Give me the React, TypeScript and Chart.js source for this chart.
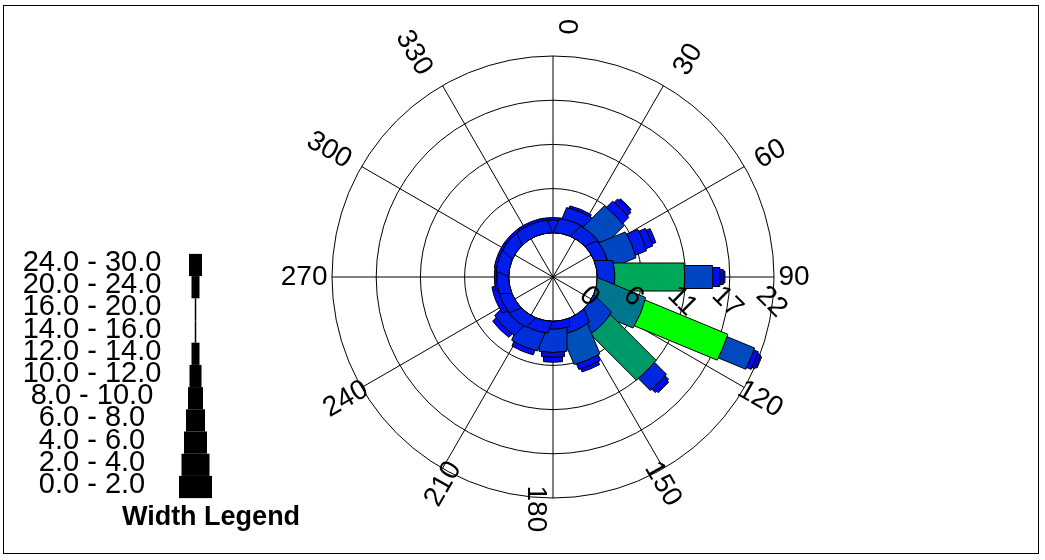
import React, { useEffect, useRef } from 'react';
import { Chart, registerables } from 'chart.js';

Chart.register(...registerables);

// ---- data ----
const directions = [0, 22.5, 45, 67.5, 90, 112.5, 135, 157.5, 180, 202.5, 225, 247.5, 270, 292.5, 315, 337.5];
const angleLabels = ['0', '30', '60', '90', '120', '150', '180', '210', '240', '270', '300', '330'];
const radialTicks = [0, 5.5, 11, 16.5, 22];
const speedClasses = ['0.0 - 2.0', '2.0 - 4.0', '4.0 - 6.0', '6.0 - 8.0', '8.0 - 10.0', '10.0 - 12.0', '12.0 - 14.0', '14.0 - 16.0', '16.0 - 20.0', '20.0 - 24.0', '24.0 - 30.0'];

// frequency (%) per direction, one array per speed class
const speed0to2 = [1.6, 1.8, 1.7, 1.6, 2.2, 6.3, 3.0, 1.7, 1.0, 1.5, 1.6, 1.5, 1.5, 1.6, 1.6, 1.6];
const speed2to4 = [0.3, 1.5, 3.7, 3.5, 8.7, 11.1, 8.0, 4.0, 2.9, 2.4, 1.6, 0.7, 0.3, 0.3, 0.3, 0.3];
const speed4to6 = [0, 0.3, 1.1, 1.5, 3.5, 3.7, 2.1, 0.75, 0.6, 0.6, 0.6, 0, 0, 0, 0, 0];
const speed6to8 = [0, 0, 0.6, 0.9, 0.9, 0.6, 0.6, 0.4, 0.6, 0, 0, 0, 0, 0, 0, 0];
const speed8to10 = [0, 0, 0.25, 0.5, 0.4, 0.4, 0.25, 0, 0, 0, 0, 0, 0, 0, 0, 0];
const speed10to12 = [0, 0, 0, 0, 0.2, 0.2, 0, 0, 0, 0, 0, 0, 0, 0, 0, 0];
const speed12to14 = [0, 0, 0, 0, 0, 0, 0, 0, 0, 0, 0, 0, 0, 0, 0, 0];
const speed14to16 = [0, 0, 0, 0, 0, 0, 0, 0, 0, 0, 0, 0, 0, 0, 0, 0];
const speed16to20 = [0, 0, 0, 0, 0, 0, 0, 0, 0, 0, 0, 0, 0, 0, 0, 0];
const speed20to24 = [0, 0, 0, 0, 0, 0, 0, 0, 0, 0, 0, 0, 0, 0, 0, 0];
const speed24to30 = [0, 0, 0, 0, 0, 0, 0, 0, 0, 0, 0, 0, 0, 0, 0, 0];

const speedSeries = [speed0to2, speed2to4, speed4to6, speed6to8, speed8to10, speed10to12, speed12to14, speed14to16, speed16to20, speed20to24, speed24to30];

// ---- styles ----
const CLASS_WIDTH_PX = [33, 28, 23, 19, 15, 12, 8, 1.5, 1.5, 8, 13];
const FONT = 'Arial, "Liberation Sans", Helvetica, sans-serif';
const COLOR_STOPS: [number, number, number, number][] = [
  [0, 0, 0, 255],
  [2, 0, 36, 228],
  [4, 0, 80, 185],
  [6.3, 0, 118, 140],
  [8.7, 0, 168, 90],
  [11.1, 0, 255, 0],
];

function valueColor(v: number): string {
  if (v <= COLOR_STOPS[0][0]) return `rgb(${COLOR_STOPS[0].slice(1).join(',')})`;
  for (let i = 1; i < COLOR_STOPS.length; i++) {
    const a = COLOR_STOPS[i - 1];
    const b = COLOR_STOPS[i];
    if (v <= b[0]) {
      const t = (v - a[0]) / (b[0] - a[0]);
      const c = [1, 2, 3].map((k) => Math.round(a[k] + (b[k] - a[k]) * t));
      return `rgb(${c.join(',')})`;
    }
  }
  const l = COLOR_STOPS[COLOR_STOPS.length - 1];
  return `rgb(${l.slice(1).join(',')})`;
}

function drawSegment(ctx: CanvasRenderingContext2D, cx: number, cy: number, phi: number, r1: number, r2: number, w: number, color: string) {
  const h = w / 2;
  const a1 = Math.asin(Math.min(1, h / r1));
  const a2 = Math.asin(Math.min(1, h / r2));
  ctx.beginPath();
  ctx.arc(cx, cy, r1, phi - a1, phi + a1, false);
  ctx.arc(cx, cy, r2, phi + a2, phi - a2, true);
  ctx.closePath();
  ctx.fillStyle = color;
  ctx.fill();
  ctx.lineWidth = 1;
  ctx.strokeStyle = '#000';
  ctx.stroke();
}

const rosePlugin = {
  id: 'windRose',
  beforeDraw(chart: any) {
    const ctx: CanvasRenderingContext2D = chart.ctx;
    ctx.save();
    ctx.fillStyle = '#fff';
    ctx.fillRect(0, 0, chart.width, chart.height);
    ctx.strokeStyle = '#000';
    ctx.lineWidth = 1;
    ctx.strokeRect(3.5, 5.5, 1035, 548);
    ctx.restore();
  },
  afterDatasetsDraw(chart: any) {
    const ctx: CanvasRenderingContext2D = chart.ctx;
    const s = chart.scales.r;
    const cx = s.xCenter;
    const cy = s.yCenter;
    ctx.save();
    // wind rose segments
    directions.forEach((deg, i) => {
      const phi = ((deg - 90) * Math.PI) / 180;
      let cum = 0;
      speedSeries.forEach((series, k) => {
        const v = series[i];
        if (!v) return;
        const r1 = s.getDistanceFromCenterForValue(cum);
        const r2 = s.getDistanceFromCenterForValue(cum + v);
        cum += v;
        drawSegment(ctx, cx, cy, phi, r1, r2, CLASS_WIDTH_PX[k], valueColor(v));
      });
    });

    // angle labels
    ctx.fillStyle = '#000';
    ctx.font = `28px ${FONT}`;
    ctx.textAlign = 'center';
    ctx.textBaseline = 'middle';
    angleLabels.forEach((lab, i) => {
      const deg = i * 30;
      let rot = deg - 90;
      if (rot > 90) rot -= 180;
      const rr = (rot * Math.PI) / 180;
      const L = ctx.measureText(lab).width;
      const p = s.getPointPosition(i, s.drawingArea + 4.5 + L / 2);
      const x = p.x - 17 * Math.sin(rr);
      const y = p.y + 17 * Math.cos(rr) - 17;
      ctx.save();
      ctx.translate(x, y);
      ctx.rotate(rr);
      ctx.fillText(lab, 0, 0);
      ctx.restore();
    });

    // radial tick labels
    ctx.textAlign = 'left';
    radialTicks.forEach((v) => {
      const r = s.getDistanceFromCenterForValue(v);
      ctx.save();
      ctx.translate(cx + r - 13.6, cy + 14);
      ctx.rotate(Math.PI / 4);
      ctx.fillText(String(Math.round(v)), 0, 0);
      ctx.restore();
    });

    // width legend
    const rowH = 22.2;
    const baseY = 487;
    ctx.font = `29px ${FONT}`;
    ctx.textAlign = 'center';
    speedClasses.forEach((lab, k) => {
      const yc = baseY - k * rowH;
      const w = CLASS_WIDTH_PX[k];
      ctx.fillStyle = '#000';
      ctx.fillRect(195.5 - w / 2, yc - rowH / 2, w, rowH);
      ctx.fillText(lab, 92, yc - 2);
    });
    ctx.font = `bold 27px ${FONT}`;
    ctx.fillText('Width Legend', 211, 518);
    ctx.restore();
  },
};

export default function App() {
  const ref = useRef<HTMLCanvasElement | null>(null);
  useEffect(() => {
    if (!ref.current) return;
    const chart = new Chart(ref.current, {
      type: 'radar',
      data: {
        labels: angleLabels,
        datasets: [{ data: angleLabels.map(() => null), pointRadius: 0, borderWidth: 0 }],
      },
      options: {
        responsive: false,
        animation: false,
        layout: { padding: { left: 332, right: 271, top: 56, bottom: 62 } },
        plugins: { legend: { display: false }, tooltip: { enabled: false } },
        scales: {
          r: {
            min: -5.5,
            max: 22,
            startAngle: 0,
            ticks: { display: false },
            pointLabels: { display: false },
            grid: { circular: true, color: '#000', lineWidth: 1 },
            angleLines: { color: '#000', lineWidth: 1 },
            afterBuildTicks: (scale: any) => {
              scale.ticks = radialTicks.map((v) => ({ value: v }));
            },
          },
        },
      } as any,
      plugins: [rosePlugin],
    });
    return () => chart.destroy();
  }, []);
  return (
    <div style={{ position: 'fixed', left: 0, top: 0, width: 1045, height: 560 }}>
      <canvas ref={ref} width={1045} height={560} style={{ display: 'block' }} />
    </div>
  );
}
